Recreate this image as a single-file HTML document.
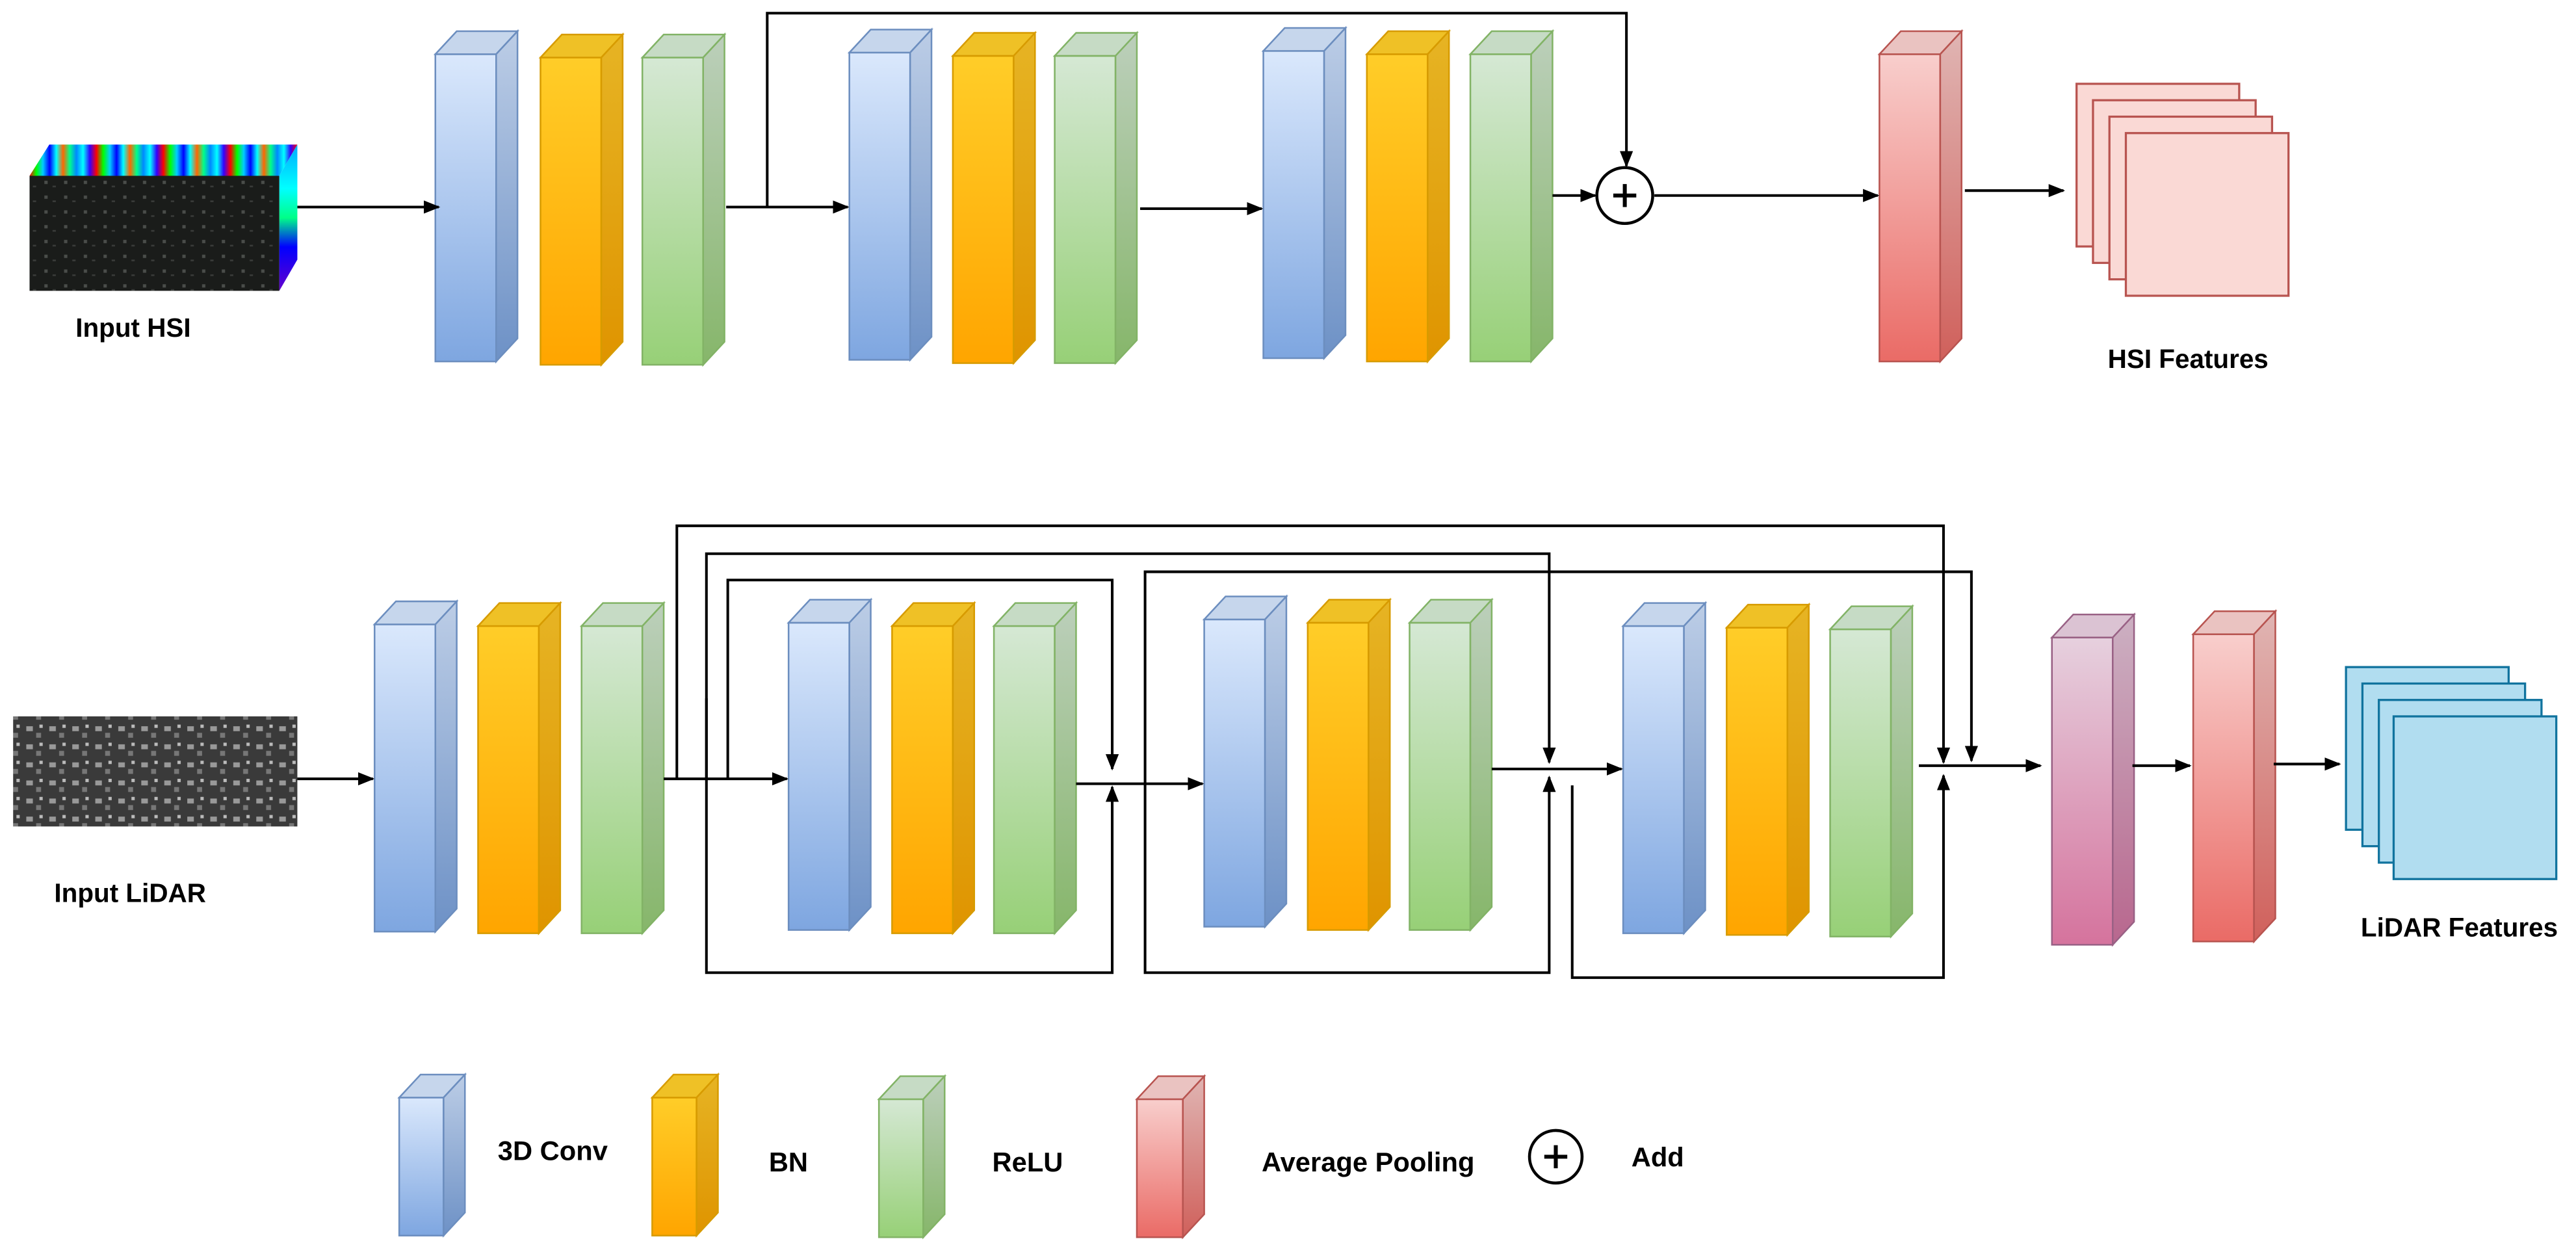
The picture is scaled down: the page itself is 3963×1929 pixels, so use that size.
<!DOCTYPE html>
<html><head><meta charset="utf-8"><style>html,body{margin:0;padding:0;background:#fff}svg{display:block}text{font-family:"Liberation Sans Narrow","Liberation Sans",Arial,sans-serif;font-weight:bold;fill:#000}</style></head>
<body>
<svg width="3963" height="1929" viewBox="0 0 1568 763.2" preserveAspectRatio="none" xmlns="http://www.w3.org/2000/svg">
<defs>
<marker id="ah" markerWidth="10" markerHeight="8" refX="9" refY="4" orient="auto" markerUnits="userSpaceOnUse"><path d="M0,0 L10,4 L0,8 z" fill="#000"/></marker>
<linearGradient id="gb" x1="0" y1="0" x2="0" y2="1"><stop offset="0" stop-color="#dae8fc"/><stop offset="1" stop-color="#7ea6e0"/></linearGradient>
<linearGradient id="gbs" x1="0" y1="0" x2="0" y2="1"><stop offset="0" stop-color="#bccde6"/><stop offset="1" stop-color="#6d91c6"/></linearGradient>
<linearGradient id="go" x1="0" y1="0" x2="0" y2="1"><stop offset="0" stop-color="#ffcd28"/><stop offset="1" stop-color="#ffa500"/></linearGradient>
<linearGradient id="gos" x1="0" y1="0" x2="0" y2="1"><stop offset="0" stop-color="#e6b424"/><stop offset="1" stop-color="#df9400"/></linearGradient>
<linearGradient id="gg" x1="0" y1="0" x2="0" y2="1"><stop offset="0" stop-color="#d5e8d4"/><stop offset="1" stop-color="#97d077"/></linearGradient>
<linearGradient id="ggs" x1="0" y1="0" x2="0" y2="1"><stop offset="0" stop-color="#bccfbb"/><stop offset="1" stop-color="#86b66a"/></linearGradient>
<linearGradient id="gr" x1="0" y1="0" x2="0" y2="1"><stop offset="0" stop-color="#f8cecc"/><stop offset="1" stop-color="#ea6b66"/></linearGradient>
<linearGradient id="grs" x1="0" y1="0" x2="0" y2="1"><stop offset="0" stop-color="#e0b5b3"/><stop offset="1" stop-color="#d0605b"/></linearGradient>
<linearGradient id="gp" x1="0" y1="0" x2="0" y2="1"><stop offset="0" stop-color="#e6d0de"/><stop offset="1" stop-color="#d5739d"/></linearGradient>
<linearGradient id="gps" x1="0" y1="0" x2="0" y2="1"><stop offset="0" stop-color="#ccb0c2"/><stop offset="1" stop-color="#b8678e"/></linearGradient>
<linearGradient id="spec" x1="0" y1="0" x2="1" y2="0" spreadMethod="repeat" gradientTransform="scale(0.25)">
<stop offset="0" stop-color="#f00"/><stop offset=".1" stop-color="#0f0"/><stop offset=".2" stop-color="#0cf"/><stop offset=".3" stop-color="#00f"/><stop offset=".4" stop-color="#0ff"/><stop offset=".5" stop-color="#f60"/><stop offset=".6" stop-color="#0f8"/><stop offset=".7" stop-color="#08f"/><stop offset=".8" stop-color="#0ff"/><stop offset=".9" stop-color="#30f"/><stop offset="1" stop-color="#f00"/></linearGradient>
<linearGradient id="specv" x1="0" y1="0" x2="0" y2="1"><stop offset="0" stop-color="#0af"/><stop offset=".3" stop-color="#0ff"/><stop offset=".5" stop-color="#0f8"/><stop offset=".7" stop-color="#00f"/><stop offset="1" stop-color="#60c"/></linearGradient>
<pattern id="lid" width="14" height="11" patternUnits="userSpaceOnUse"><rect width="14" height="11" fill="#3a3a3a"/><rect x="2" y="2" width="4" height="3" fill="#999"/><rect x="8" y="6" width="3" height="3" fill="#777"/><rect x="10" y="1" width="2" height="2" fill="#bbb"/></pattern>
<pattern id="hsi" width="12" height="9" patternUnits="userSpaceOnUse"><rect width="12" height="9" fill="#1a1c1a"/><rect x="3" y="2" width="2" height="2" fill="#4a4d4a"/><rect x="8" y="5" width="2" height="1" fill="#3a3c3a"/></pattern>
<g id="B"><rect x="0" y="0" width="37" height="187" fill="url(#gb)" stroke="#6c8ebf"/><polygon points="0,0 13,-14 50,-14 37,0" fill="#c6d6ec" stroke="#6c8ebf"/><polygon points="37,0 50,-14 50,173 37,187" fill="url(#gbs)" stroke="#6c8ebf"/></g>
<g id="O"><rect x="0" y="0" width="37" height="187" fill="url(#go)" stroke="#d79b00"/><polygon points="0,0 13,-14 50,-14 37,0" fill="#efc126" stroke="#d79b00"/><polygon points="37,0 50,-14 50,173 37,187" fill="url(#gos)" stroke="#d79b00"/></g>
<g id="G"><rect x="0" y="0" width="37" height="187" fill="url(#gg)" stroke="#82b366"/><polygon points="0,0 13,-14 50,-14 37,0" fill="#c6dbc5" stroke="#82b366"/><polygon points="37,0 50,-14 50,173 37,187" fill="url(#ggs)" stroke="#82b366"/></g>
<g id="R"><rect x="0" y="0" width="37" height="187" fill="url(#gr)" stroke="#b85450"/><polygon points="0,0 13,-14 50,-14 37,0" fill="#eac3c1" stroke="#b85450"/><polygon points="37,0 50,-14 50,173 37,187" fill="url(#grs)" stroke="#b85450"/></g>
<g id="P"><rect x="0" y="0" width="37" height="187" fill="url(#gp)" stroke="#996185"/><polygon points="0,0 13,-14 50,-14 37,0" fill="#dbc3d3" stroke="#996185"/><polygon points="37,0 50,-14 50,173 37,187" fill="url(#gps)" stroke="#996185"/></g>
<g id="LB"><rect x="0" y="0" width="27" height="84" fill="url(#gb)" stroke="#6c8ebf"/><polygon points="0,0 13,-14 40,-14 27,0" fill="#c6d6ec" stroke="#6c8ebf"/><polygon points="27,0 40,-14 40,70 27,84" fill="url(#gbs)" stroke="#6c8ebf"/></g>
<g id="LO"><rect x="0" y="0" width="27" height="84" fill="url(#go)" stroke="#d79b00"/><polygon points="0,0 13,-14 40,-14 27,0" fill="#efc126" stroke="#d79b00"/><polygon points="27,0 40,-14 40,70 27,84" fill="url(#gos)" stroke="#d79b00"/></g>
<g id="LG"><rect x="0" y="0" width="27" height="84" fill="url(#gg)" stroke="#82b366"/><polygon points="0,0 13,-14 40,-14 27,0" fill="#c6dbc5" stroke="#82b366"/><polygon points="27,0 40,-14 40,70 27,84" fill="url(#ggs)" stroke="#82b366"/></g>
<g id="LR"><rect x="0" y="0" width="28" height="84" fill="url(#gr)" stroke="#b85450"/><polygon points="0,0 13,-14 41,-14 28,0" fill="#eac3c1" stroke="#b85450"/><polygon points="28,0 41,-14 41,70 28,84" fill="url(#grs)" stroke="#b85450"/></g>
</defs>

<polygon points="18,107 30,88 181,88 170,107" fill="url(#spec)"/>
<polygon points="170,107 181,88 181,158 170,177" fill="url(#specv)"/>
<rect x="18" y="107" width="152" height="70" fill="url(#hsi)"/>
<text x="46" y="205" font-size="16">Input HSI</text>

<use href="#B" x="265" y="33"/><use href="#O" x="329" y="35"/><use href="#G" x="391" y="35"/>
<use href="#B" x="517" y="32"/><use href="#O" x="580" y="34"/><use href="#G" x="642" y="34"/>
<use href="#B" x="769" y="31"/><use href="#O" x="832" y="33"/><use href="#G" x="895" y="33"/>
<use href="#R" x="1144" y="33"/>
<g stroke="#000" stroke-width="1.6" fill="none">
<line x1="181" y1="126" x2="267" y2="126" marker-end="url(#ah)"/>
<line x1="442" y1="126" x2="516" y2="126" marker-end="url(#ah)"/>
<polyline points="467,126 467,8 990,8 990,101" marker-end="url(#ah)"/>
<line x1="694" y1="127" x2="768" y2="127" marker-end="url(#ah)"/>
<line x1="945" y1="119" x2="971" y2="119" marker-end="url(#ah)"/>
<line x1="1007" y1="119" x2="1143" y2="119" marker-end="url(#ah)"/>
<line x1="1196" y1="116" x2="1256" y2="116" marker-end="url(#ah)"/>
<circle cx="989" cy="119" r="17" stroke-width="1.8"/>
<line x1="982" y1="119" x2="996" y2="119" stroke-width="2.4"/><line x1="989" y1="112" x2="989" y2="126" stroke-width="2.4"/>
</g>
<g fill="#fad9d5" stroke="#b85450" stroke-width="1.3">
<rect x="1264" y="51" width="99" height="99"/><rect x="1274" y="61" width="99" height="99"/><rect x="1284" y="71" width="99" height="99"/><rect x="1294" y="81" width="99" height="99"/>
</g>
<text x="1283" y="224" font-size="16">HSI Features</text>

<rect x="8" y="436" width="173" height="67" fill="url(#lid)"/>
<text x="33" y="549" font-size="16">Input LiDAR</text>
<use href="#B" x="228" y="380"/><use href="#O" x="291" y="381"/><use href="#G" x="354" y="381"/>
<use href="#B" x="480" y="379"/><use href="#O" x="543" y="381"/><use href="#G" x="605" y="381"/>
<use href="#B" x="733" y="377"/><use href="#O" x="796" y="379"/><use href="#G" x="858" y="379"/>
<use href="#B" x="988" y="381"/><use href="#O" x="1051" y="382"/><use href="#G" x="1114" y="383"/>
<use href="#P" x="1249" y="388"/><use href="#R" x="1335" y="386"/>
<g stroke="#000" stroke-width="1.6" fill="none">
<line x1="181" y1="474" x2="227" y2="474" marker-end="url(#ah)"/>
<line x1="404" y1="474" x2="479" y2="474" marker-end="url(#ah)"/>
<polyline points="412,474 412,320 1183,320 1183,464" marker-end="url(#ah)"/>
<polyline points="430,474 430,337 943,337 943,464" marker-end="url(#ah)"/>
<polyline points="443,474 443,353 677,353 677,468" marker-end="url(#ah)"/>
<polyline points="430,425 430,592 677,592 677,479" marker-end="url(#ah)"/>
<line x1="655" y1="477" x2="732" y2="477" marker-end="url(#ah)"/>
<polyline points="697,477 697,348 1200,348 1200,463" marker-end="url(#ah)"/>
<polyline points="697,477 697,592 943,592 943,473" marker-end="url(#ah)"/>
<line x1="908" y1="468" x2="987" y2="468" marker-end="url(#ah)"/>
<polyline points="957,478 957,595 1183,595 1183,472" marker-end="url(#ah)"/>
<line x1="1168" y1="466" x2="1242" y2="466" marker-end="url(#ah)"/>
<line x1="1298" y1="466" x2="1333" y2="466" marker-end="url(#ah)"/>
<line x1="1384" y1="465" x2="1424" y2="465" marker-end="url(#ah)"/>
</g>
<g fill="#b1ddf0" stroke="#10739e" stroke-width="1.3">
<rect x="1428" y="406" width="99" height="99"/><rect x="1438" y="416" width="99" height="99"/><rect x="1448" y="426" width="99" height="99"/><rect x="1457" y="436" width="99" height="99"/>
</g>
<text x="1437" y="570" font-size="16">LiDAR Features</text>

<use href="#LB" x="243" y="668"/>
<use href="#LO" x="397" y="668"/>
<use href="#LG" x="535" y="669"/>
<use href="#LR" x="692" y="669"/>
<circle cx="947" cy="704" r="16" fill="none" stroke="#000" stroke-width="1.8"/>
<line x1="940" y1="704" x2="954" y2="704" stroke="#000" stroke-width="2.4"/><line x1="947" y1="697" x2="947" y2="711" stroke="#000" stroke-width="2.4"/>
<text x="303" y="706" font-size="16.5">3D Conv</text>
<text x="468" y="713" font-size="16.5">BN</text>
<text x="604" y="713" font-size="16.5">ReLU</text>
<text x="768" y="713" font-size="16.5">Average Pooling</text>
<text x="993" y="710" font-size="16.5">Add</text>
</svg>
</body></html>
